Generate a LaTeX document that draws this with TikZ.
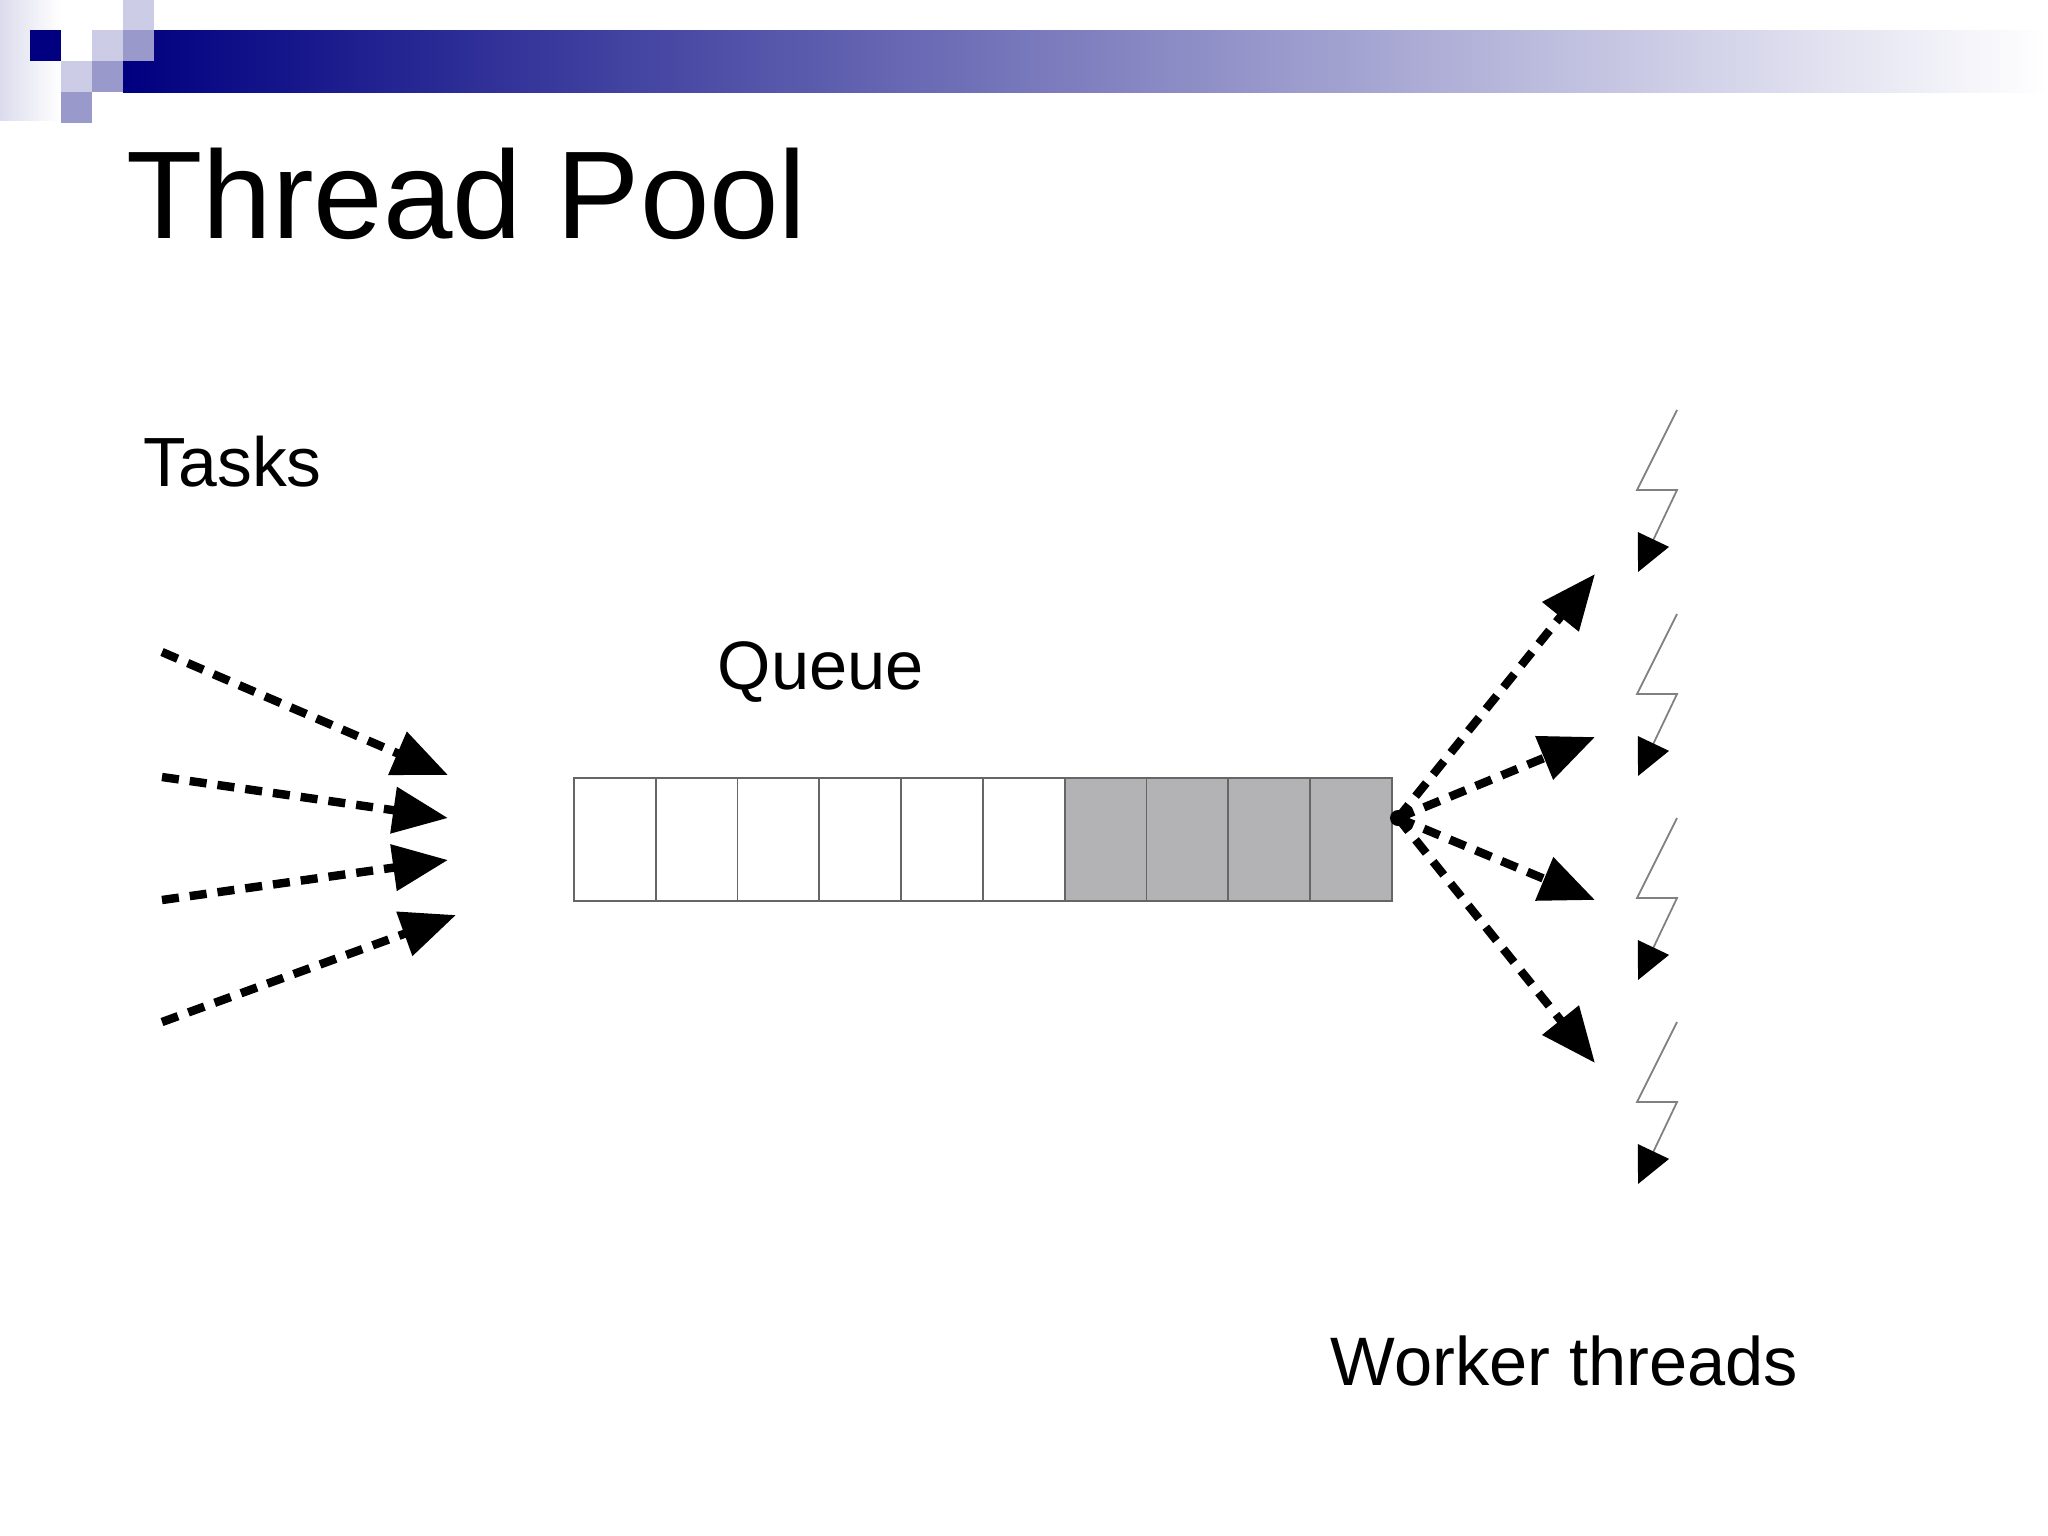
\documentclass[tikz,border=0pt]{standalone}
\usepackage{fontspec}
\setmainfont{Liberation Sans}
\usetikzlibrary{arrows.meta}
\definecolor{navy}{HTML}{000080}
\definecolor{lt}{HTML}{CCCCE6}
\definecolor{md}{HTML}{9999CC}
\definecolor{cellgray}{HTML}{B3B2B5}
\begin{document}
\begin{tikzpicture}[x=0.01cm,y=-0.01cm,
  cell/.style={draw=gray!80!black,line width=0.5pt,minimum width=0.818cm,minimum height=1.23cm,inner sep=0,anchor=north west},
  dasharrow/.style={line width=2.4pt,dash pattern=on 0.17cm off 0.11cm,-{Triangle[length=0.55cm,width=0.45cm]}},
  bolt/.style={draw=gray,line width=0.5pt,-{Triangle[length=0.36cm,width=0.34cm,color=black]}},
  lbl/.style={anchor=base west,inner sep=0}]
\useasboundingbox (0,0) rectangle (2048,1536);
\fill[white] (0,0) rectangle (2048,1536);
% header decoration
\shade[left color=lt!70,right color=white] (0,0) rectangle (60,120);
\shade[left color=navy,right color=white] (123,30) rectangle (2048,92);
\fill[navy] (30,30) rectangle (61,61);
\fill[lt] (92,30) rectangle (123,61);
\fill[lt] (123,0) rectangle (154,30);
\fill[md] (123,30) rectangle (154,61);
\fill[lt] (61,61) rectangle (92,92);
\fill[md] (92,61) rectangle (123,92);
\fill[md] (61,92) rectangle (92,123);
% texts
\node[lbl,font=\fontsize{35.5}{42}\selectfont] (title) at (126,238) {Thread Pool};
\node[lbl,font=\fontsize{19.8}{24}\selectfont] (tasks) at (143,486) {Tasks};
\node[lbl,font=\fontsize{19.5}{24}\selectfont] (queue) at (717,689) {Queue};
\node[lbl,font=\fontsize{19.5}{24}\selectfont] (workers) at (1330,1385) {Worker threads};
% queue cells
\foreach \i in {0,...,9}{
  \ifnum\i<6 \def\fc{white}\else\def\fc{cellgray}\fi
  \node[cell,fill=\fc] (c\i) at (573+81.8*\i,777) {};
}
% left arrows
\coordinate (s1) at (162,652); \coordinate (e1) at (448,775);
\coordinate (s2) at (162,777); \coordinate (e2) at (448,818);
\coordinate (s3) at (162,900); \coordinate (e3) at (448,860);
\coordinate (s4) at (162,1022); \coordinate (e4) at (456,915);
\foreach \k in {1,...,4} \draw[dasharrow] (s\k) -- (e\k);
% right arrows
\coordinate (o) at (1398,818);
\coordinate (r1) at (1595,574);
\coordinate (r2) at (1595,737);
\coordinate (r3) at (1595,900);
\coordinate (r4) at (1595,1063);
\foreach \k in {1,...,4} \draw[dasharrow] (o) -- (r\k);
\fill (o) circle (8);
% bolts
\foreach \k in {0,...,3}{
  \draw[bolt] (1677,410+204*\k) -- (1637,490+204*\k) -- (1677,490+204*\k) -- (1638,572+204*\k);
}
\end{tikzpicture}
\end{document}
